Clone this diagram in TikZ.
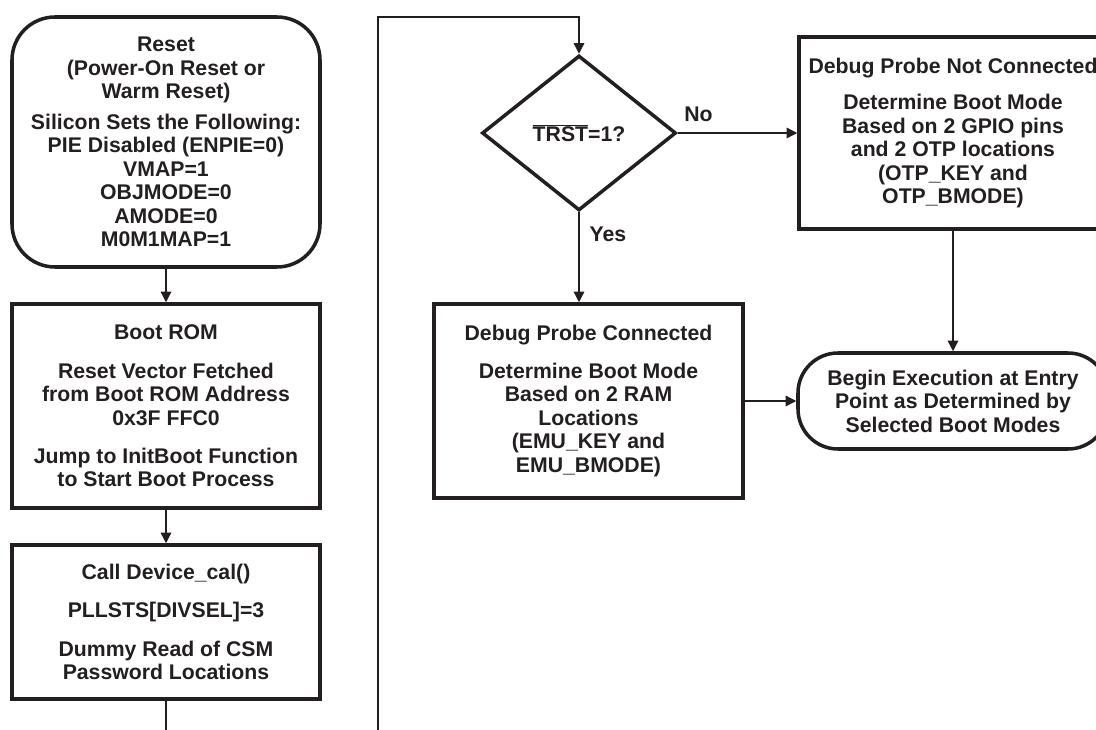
\documentclass[tikz,border=0pt]{standalone}
\usepackage{fontspec}
\setmainfont{Liberation Sans}
\usepackage{xcolor}
\usetikzlibrary{arrows.meta, positioning, calc, shapes}
\definecolor{inkgray}{HTML}{231F20}

\begin{document}
\begin{tikzpicture}[x=0.25mm, y=-0.25mm,
		every node/.style={text=inkgray, font=\bfseries\fontsize{15.1}{16.7}\selectfont, align=center},
		procbox/.style={draw=inkgray, line width=2.5pt, minimum width=77mm, inner sep=0pt},
		termbox/.style={procbox, rounded corners=10.75mm},
		decision/.style={diamond, draw=inkgray, line width=2.5pt, minimum width=48.5mm, minimum height=38.75mm, inner sep=0pt},
		flow/.style={draw=inkgray, line width=0.9pt, -{Triangle[length=7.5pt, width=7.5pt]}},
		tag/.style={inner sep=0pt}]
		\useasboundingbox (0,0) rectangle (1096,730);
		\clip (0,0) rectangle (1096,730);
		
		% Left column: reset and boot ROM
		\node[termbox, minimum height=62.5mm] (reset) at (166,142)
		{Reset\\(Power-On Reset or\\Warm Reset)\\[5pt]Silicon Sets the Following:\\PIE Disabled (ENPIE=0)\\VMAP=1\\OBJMODE=0\\AMODE=0\\M0M1MAP=1};
		\node[procbox, minimum height=51mm] (bootrom) at (166,406)
		{Boot ROM\\[10.5pt]Reset Vector Fetched\\from Boot ROM Address\\0x3F FFC0\\[10.5pt]Jump to InitBoot Function\\to Start Boot Process};
		\node[procbox, minimum height=38.5mm] (devcal) at (166,622)
		{Call Device\_cal()\\[10.5pt]PLLSTS[DIVSEL]=3\\[10.5pt]Dummy Read of CSM\\Password Locations};
		
		% Boot mode selection
		\node[decision] (trst) at (579,133) {$\overline{\hbox{TRST}}$=1?};
		\node[procbox, minimum height=48mm] (nocon) at (953,133)
		{Debug Probe Not Connected\\[9.5pt]Determine Boot Mode\\Based on 2 GPIO pins\\and 2 OTP locations\\(OTP\_KEY and\\OTP\_BMODE)};
		\node[procbox, minimum width=77.25mm, minimum height=48.5mm] (probe) at (588.5,401)
		{Debug Probe Connected\\[10pt]Determine Boot Mode\\Based on 2 RAM\\Locations\\(EMU\_KEY and\\EMU\_BMODE)};
		\node[termbox, rounded corners=10mm, minimum width=77.5mm, minimum height=24mm] (begin) at (953,401)
		{Begin Execution at Entry\\Point as Determined by\\Selected Boot Modes};
		
		% Loose ends at the bottom edge
		\coordinate (leftend) at (166,730);
		\coordinate (loopend) at (378,730);
		\coordinate (looptop) at (378,17);
		
		% Connectors
		\draw[flow] (reset) -- (bootrom);
		\draw[flow] (bootrom) -- (devcal);
		\draw[flow, -] (devcal) -- (leftend);
		\draw[flow] (loopend) -- (looptop) -| (trst.north);
		\draw[flow] (trst.east) -- (nocon.west)
		node[tag, pos=0, anchor=south west, xshift=1.5mm, yshift=2.75mm] (nolbl) {No};
		\draw[flow] (trst.south) -- (trst.south |- probe.north)
		node[tag, pos=0, anchor=north west, xshift=2.5mm, yshift=-3.5mm] (yeslbl) {Yes};
		\draw[flow] (probe.east) -- (begin.west);
		\draw[flow] (nocon.south) -- (begin.north);
	\end{tikzpicture}
\end{document}
